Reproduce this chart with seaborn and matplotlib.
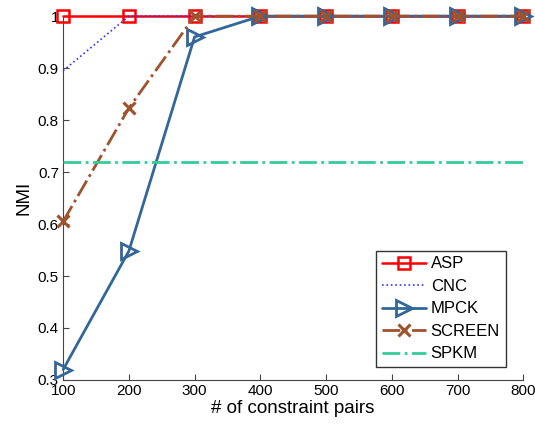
import numpy as np
import pandas as pd
import matplotlib
matplotlib.use("Agg")
import matplotlib.pyplot as plt
import seaborn as sns
from matplotlib.ticker import FuncFormatter

pairs = [100, 200, 300, 400, 500, 600, 700, 800]
asp = [1.0, 1.0, 1.0, 1.0, 1.0, 1.0, 1.0, 1.0]
cnc = [0.895, 1.0, 1.0, 1.0, 1.0, 1.0, 1.0, 1.0]
mpck = [0.32, 0.548, 0.96, 1.0, 1.0, 1.0, 1.0, 1.0]
screen = [0.605, 0.823, 1.0, 1.0, 1.0, 1.0, 1.0, 1.0]
spkm = [0.72, 0.72, 0.72, 0.72, 0.72, 0.72, 0.72, 0.72]

sns.set_theme(style="ticks")
plt.rcParams["font.family"] = ["Liberation Sans", "DejaVu Sans"]
plt.rcParams["xtick.direction"] = "in"
plt.rcParams["ytick.direction"] = "in"
plt.rcParams["text.color"] = "black"
plt.rcParams["axes.labelcolor"] = "black"

fig = plt.figure(figsize=(5.35, 4.25), dpi=100)
ax = fig.add_axes([0.118, 0.106, 0.860, 0.856])

styles = {
    "ASP": dict(data=asp, color="#ff0000", ls="-", marker="s", ms=9, lw=1.8, mew=1.8),
    "CNC": dict(data=cnc, color="#3333ff", ls=":", marker=None, ms=0, lw=1.2, mew=1),
    "MPCK": dict(data=mpck, color="#336699", ls="-", marker=">", ms=11, lw=2.0, mew=2.0),
    "SCREEN": dict(data=screen, color="#a0522d", ls="-.", marker="x", ms=8, lw=2.0, mew=2.2),
    "SPKM": dict(data=spkm, color="#33cc99", ls="-.", marker=None, ms=0, lw=2.0, mew=1),
}

# later series sit on top, as in the original
for i, (name, st) in enumerate(styles.items()):
    df = pd.DataFrame({"pairs": pairs, "nmi": st["data"]})
    sns.lineplot(data=df, x="pairs", y="nmi", ax=ax, color=st["color"], linestyle=st["ls"],
                 marker=st["marker"], markersize=st["ms"], linewidth=st["lw"],
                 markerfacecolor="none", markeredgecolor=st["color"],
                 markeredgewidth=st["mew"], label=name, clip_on=False, zorder=3 + i)

ax.set_xlim(100, 800)
ax.set_ylim(0.3, 1.0)
ax.set_xticks(pairs)
ax.set_yticks([0.3, 0.4, 0.5, 0.6, 0.7, 0.8, 0.9, 1.0])
ax.yaxis.set_major_formatter(FuncFormatter(lambda v, p: "1" if abs(v - 1) < 1e-9 else f"{v:.1f}"))
ax.tick_params(labelsize=11, length=4, color="#444444", labelcolor="black", width=0.8, pad=3)
for side in ["top", "right"]:
    ax.spines[side].set_visible(False)
for side in ["left", "bottom"]:
    ax.spines[side].set_color("#444444")
    ax.spines[side].set_linewidth(0.8)

ax.set_xlabel("# of constraint pairs", fontsize=13.5, labelpad=1)
ax.set_ylabel("NMI", fontsize=13.5, labelpad=4)

leg = ax.legend(loc="lower right", bbox_to_anchor=(0.962, 0.035), fontsize=12, frameon=True,
                fancybox=False, edgecolor="black", handlelength=2.6, borderpad=0.35,
                labelspacing=0.45, handletextpad=0.3, borderaxespad=0)
leg.get_frame().set_linewidth(1.0)
leg.set_zorder(20)

fig.savefig("out.png", dpi=100)
